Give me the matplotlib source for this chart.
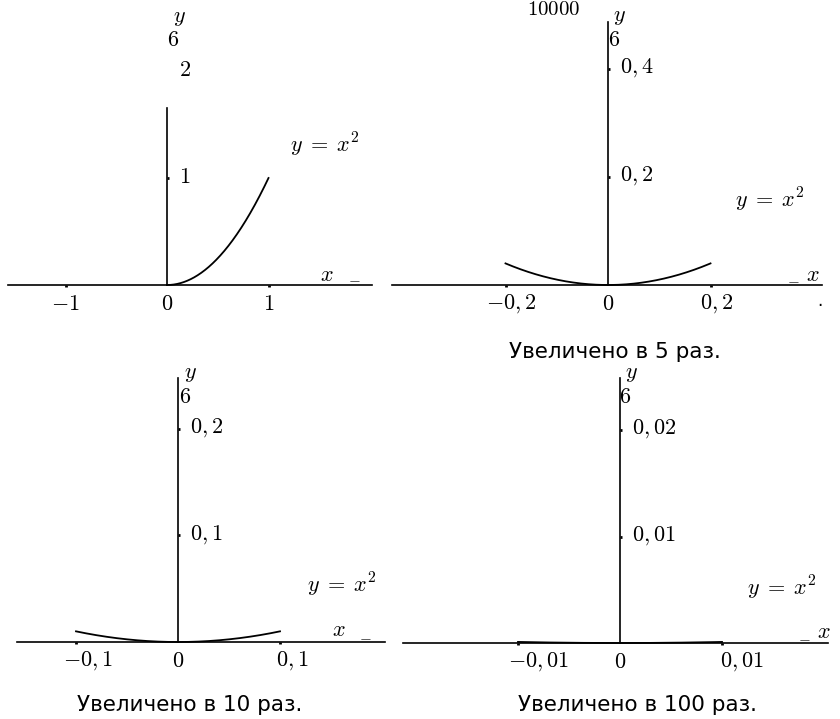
import numpy as np
import matplotlib.pyplot as plt

plt.rcParams['mathtext.fontset'] = 'cm'
plt.rcParams['font.family'] = ['DejaVu Sans']

W, H = 840, 719

# chart data: curve ranges, ticks and labels of the four panels
curve_ranges = [(0.0, 1.0), (-0.2, 0.2), (-0.1, 0.1), (-0.01, 0.01)]
x_ticks = [[-1, 0, 1], [-0.2, 0, 0.2], [-0.1, 0, 0.1], [-0.01, 0, 0.01]]
x_labels = [['$-1$', '$0$', '$1$'],
            ['$-0,2$', '$0$', '$0,2$'],
            ['$-0,1$', '$0$', '$0,1$'],
            ['$-0,01$', '$0$', '$0,01$']]
y_ticks = [[1, 2], [0.2, 0.4], [0.1, 0.2], [0.01, 0.02]]
y_labels = [['$1$', '$2$'],
            ['$0,2$', '$0,4$'],
            ['$0,1$', '$0,2$'],
            ['$0,01$', '$0,02$']]
captions = ['', 'Увеличено в 5 раз.', 'Увеличено в 10 раз.', 'Увеличено в 100 раз.']
curve_label = r'$y\;=\;x^2$'

# layout in pixels: axis line extent, origin, pixels per unit, top of y axis
layout = [
    dict(left=8, right=372, x0=167, y0=285, sx=101.5, sy=107, ytop=108, dx=0),
    dict(left=392, right=822, x0=608, y0=285, sx=512.5, sy=540, ytop=22, dx=6),
    dict(left=17, right=385, x0=178, y0=642, sx=1020, sy=1066, ytop=378, dx=12),
    dict(left=403, right=828, x0=620, y0=643, sx=10200, sy=10650, ytop=378, dx=20),
]
# free text positions (px): "y", arrow "6", curve label, "x", arrow dash, caption
text_pos = [
    dict(y=(179, 18), six=(173, 40), eq=(325, 145), xl=(327, 275), dash=(354, 279), cap=None),
    dict(y=(619, 17), six=(614, 40), eq=(770, 200), xl=(813, 275), dash=(793, 280), cap=(615, 352)),
    dict(y=(190, 374), six=(185, 397), eq=(342, 585), xl=(339, 630), dash=(365, 637), cap=(190, 705)),
    dict(y=(631, 374), six=(625, 397), eq=(782, 588), xl=(824, 632), dash=(804, 638), cap=(638, 705)),
]

fig = plt.figure(figsize=(W / 100, H / 100), dpi=100)

for i in range(4):
    L = layout[i]
    top, bottom = L['ytop'] - 20, L['y0'] + 12
    ax = fig.add_axes([L['left'] / W, 1 - bottom / H,
                       (L['right'] - L['left']) / W, (bottom - top) / H])
    ax.set_xlim((L['left'] - L['x0']) / L['sx'], (L['right'] - L['x0']) / L['sx'])
    ax.set_ylim((L['y0'] - bottom) / L['sy'], (L['y0'] - top) / L['sy'])
    ax.patch.set_visible(False)

    for s in ['top', 'left']:
        ax.spines[s].set_visible(False)
    ax.spines['bottom'].set_position(('data', 0))
    ax.spines['right'].set_position(('data', 0))
    ax.spines['right'].set_bounds(0, (L['y0'] - L['ytop']) / L['sy'])
    for s in ['bottom', 'right']:
        ax.spines[s].set_linewidth(1.2)

    ymax_axis = (L['y0'] - L['ytop']) / L['sy']
    ax.set_xticks([t for t in x_ticks[i] if t != 0])
    ax.set_yticks([t for t in y_ticks[i] if t <= ymax_axis])
    ax.xaxis.set_ticks_position('bottom')
    ax.yaxis.set_ticks_position('right')
    ax.tick_params(direction='out', length=1.5, width=2, labelbottom=False,
                   labelright=False, labelleft=False)

    xa, xb = curve_ranges[i]
    xs = np.linspace(xa, xb, 300)
    ax.plot(xs, xs ** 2, color='black', lw=1.3, clip_on=False)

    for t, lab in zip(x_ticks[i], x_labels[i]):
        dx = 0 if t == 0 else L['dx']
        ax.annotate(lab, (t, 0), xytext=(dx, -19), textcoords='offset pixels',
                    ha='center', va='center', fontsize=16, annotation_clip=False)
    for t, lab in zip(y_ticks[i], y_labels[i]):
        ax.annotate(lab, (0, t), xytext=(12, 1), textcoords='offset pixels',
                    ha='left', va='center', fontsize=16, annotation_clip=False)

    P = text_pos[i]
    def put(key, s, size=16, **kw):
        px, py = P[key]
        fig.text(px / W, 1 - py / H, s, ha='center', va='center', fontsize=size, **kw)
    put('y', '$y$')
    put('six', '$6$')
    put('eq', curve_label, size=16)
    put('xl', '$x$')
    put('dash', '$-$', size=11)
    if P['cap']:
        put('cap', captions[i], size=15.5)

# stray marks in the scan
fig.text(554 / W, 1 - 9 / H, '$10000$', ha='center', va='center', fontsize=15)
fig.text(820 / W, 1 - 301 / H, '.', ha='center', va='center', fontsize=12)

fig.savefig('out.png', dpi=100)
